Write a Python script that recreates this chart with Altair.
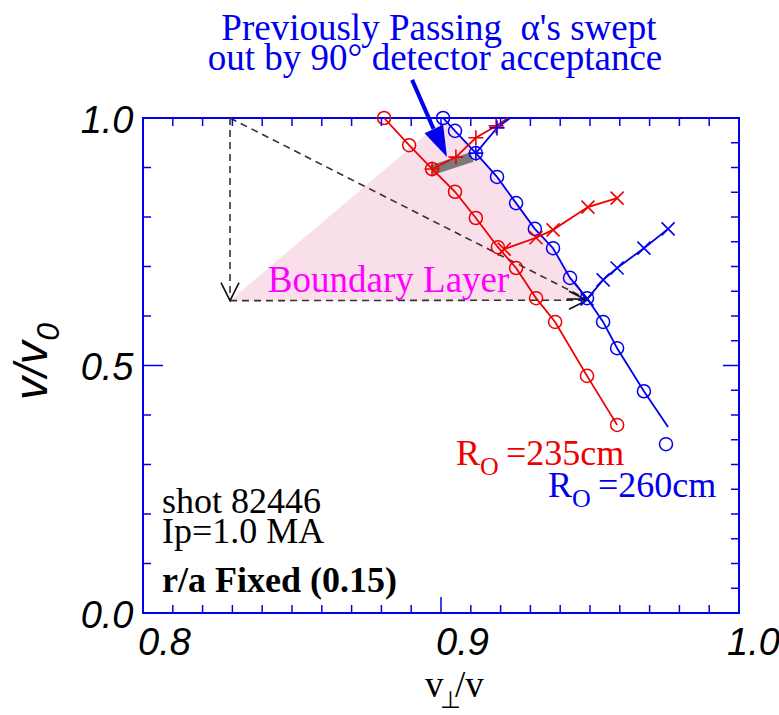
import altair as alt
import pandas as pd

# ------------------------------------------------------------------ data
# R0 = 235 cm (red) : circles along the orbit curve
red_circle_x = [0.8809, 0.8893, 0.8970, 0.9047, 0.9117, 0.9191, 0.9252, 0.9319, 0.9383, 0.9490, 0.9591]
red_circle_y = [1.000, 0.945, 0.897, 0.851, 0.798, 0.739, 0.697, 0.636, 0.588, 0.479, 0.380]

# R0 = 260 cm (blue) : line and circles
blue_line_x = [0.9007, 0.9047, 0.9117, 0.9188, 0.9252, 0.9315, 0.9376, 0.9433, 0.9490, 0.9544, 0.9591, 0.9681, 0.9762]
blue_line_y = [1.000, 0.974, 0.929, 0.881, 0.828, 0.776, 0.737, 0.677, 0.636, 0.588, 0.535, 0.448, 0.376]
blue_circle_x = [0.9007, 0.9047, 0.9117, 0.9188, 0.9252, 0.9315, 0.9376, 0.9433, 0.9490, 0.9544, 0.9591, 0.9681, 0.9755]
blue_circle_y = [1.000, 0.974, 0.929, 0.881, 0.828, 0.776, 0.737, 0.677, 0.636, 0.588, 0.535, 0.448, 0.341]

# "+" branches (upper)
red_plus_line_x = [0.8970, 0.9050, 0.9117, 0.9185, 0.9225]
red_plus_line_y = [0.897, 0.921, 0.960, 0.984, 1.000]
red_plus_x = [0.8970, 0.9050, 0.9117, 0.9185]
red_plus_y = [0.897, 0.921, 0.960, 0.984]
blue_plus_line_x = [0.9117, 0.9188, 0.9232]
blue_plus_line_y = [0.929, 0.980, 1.000]
blue_plus_x = [0.9117, 0.9188]
blue_plus_y = [0.929, 0.980]

# "x" branches (lower)
red_x_x = [0.9212, 0.9319, 0.9376, 0.9493, 0.9591]
red_x_y = [0.735, 0.758, 0.774, 0.820, 0.838]
blue_x_x = [0.9490, 0.9544, 0.9591, 0.9681, 0.9762]
blue_x_y = [0.634, 0.673, 0.697, 0.737, 0.776]

# swept region (gray strip)
gray_x = [0.8970, 0.9104]
gray_y = [0.895, 0.921]

# boundary layer (pink)
pink_x = [0.8292, 0.9005, 0.9047, 0.9117, 0.9188, 0.9252, 0.9315, 0.9376, 0.9433, 0.9490]
pink_top = [0.631, 0.995, 0.974, 0.929, 0.881, 0.828, 0.776, 0.737, 0.677, 0.634]
pink_bottom = 0.631

# dashed arrows: (x0, y0, x1, y1, head angle)
dash_seg = ["down", "diag", "across"]
dash_x0 = [0.8292, 0.8292, 0.8292]
dash_y0 = [1.000, 1.000, 0.631]
dash_x1 = [0.8292, 0.9490, 0.9490]
dash_y1 = [0.631, 0.634, 0.632]
dash_angle = [90, 27, 0]

# big blue arrow
blue_arrow_x = [0.8903, 0.8975]
blue_arrow_y = [1.077, 0.978]
blue_tip_x = [0.9020]
blue_tip_y = [0.921]

# ticks
x_minor = [0.81, 0.82, 0.83, 0.84, 0.85, 0.86, 0.87, 0.88, 0.89, 0.91, 0.92, 0.93, 0.94, 0.95, 0.96, 0.97, 0.98, 0.99]
x_major = [0.8, 0.9, 1.0]
y_left_minor = [0.1, 0.2, 0.3, 0.4, 0.6, 0.7, 0.8, 0.9]
y_right_minor = [0.05, 0.1, 0.15, 0.2, 0.25, 0.3, 0.35, 0.4, 0.45, 0.55, 0.6, 0.65, 0.7, 0.75, 0.8, 0.85, 0.9, 0.95]
y_major = [0.5]
x_labels = [0.8, 0.9, 1.0]
y_labels = [0.0, 0.5, 1.0]

# ------------------------------------------------------------------ style
W, H = 596, 495
RED = "#EE0000"
BLUE = "#0000EE"
MAG = "#FF00FF"
SERIF = "Liberation Serif"
SANS = "Liberation Sans"
PLUS = "M-1,0L1,0M0,-1L0,1"
CROSS = "M-1,-1L1,1M-1,1L1,-1"
VHEAD = "M-1,-0.5L0,0L-1,0.5"
TRI = "M0,0L-1,-0.33L-1,0.33Z"

xs = alt.Scale(domain=[0.8, 1.0], nice=False, zero=False)
ys = alt.Scale(domain=[0.0, 1.0], nice=False, zero=False)
xaxis = alt.Axis(values=x_labels, format=".1f", title=None, domain=False, ticks=False, grid=False,
                 labelFont=SANS, labelFontStyle="italic", labelFontSize=38, labelColor="black",
                 labelPadding=11,
                 labelOffset={"condition": {"test": "datum.value > 0.95", "value": 14}, "value": 21},
                 labelFlush=False, labelOverlap=False)
yaxis = alt.Axis(values=y_labels, format=".1f", title=None, domain=False, ticks=False, grid=False,
                 labelFont=SANS, labelFontStyle="italic", labelFontSize=38, labelColor="black",
                 labelPadding=10, labelOffset=3, labelFlush=False, labelOverlap=False)


def X(f="x"):
    return alt.X(f"{f}:Q", scale=xs, axis=xaxis)


def Y(f="y"):
    return alt.Y(f"{f}:Q", scale=ys, axis=yaxis)


def df(x, y, **kw):
    d = pd.DataFrame({"x": x, "y": y})
    for k, v in kw.items():
        d[k] = v
    return d


layers = []

# pink boundary layer
pink_df = pd.DataFrame({"x": pink_x, "y": pink_top, "y2": [pink_bottom] * len(pink_x)})
layers.append(alt.Chart(pink_df).mark_area(color="#F9DFEA", opacity=1)
              .encode(x=X(), y=Y(), y2="y2:Q"))

# dashed arrows
dash_rows = []
for s, a, b, c, d in zip(dash_seg, dash_x0, dash_y0, dash_x1, dash_y1):
    dash_rows.append({"seg": s, "x": a, "y": b, "o": 0})
    dash_rows.append({"seg": s, "x": c, "y": d, "o": 1})
layers.append(alt.Chart(pd.DataFrame(dash_rows)).mark_line(color="#333333", strokeWidth=1.6, strokeDash=[7, 5])
              .encode(x=X(), y=Y(), detail="seg:N", order="o:Q"))
heads = pd.DataFrame({"x": dash_x1, "y": dash_y1, "a": dash_angle})
layers.append(alt.Chart(heads).mark_point(shape=VHEAD, filled=False, size=1296, strokeWidth=1.6,
                                          color="#111111", opacity=1)
              .encode(x=X(), y=Y(), angle=alt.Angle("a:Q", scale=None)))

# gray swept strip
layers.append(alt.Chart(df(gray_x, gray_y)).mark_line(color="#7A7A7A", strokeWidth=10, strokeCap="butt")
              .encode(x=X(), y=Y()))

# curves
for (lx, ly, col) in [(red_circle_x, red_circle_y, RED), (blue_line_x, blue_line_y, BLUE),
                      (red_plus_line_x, red_plus_line_y, RED), (blue_plus_line_x, blue_plus_line_y, BLUE),
                      (red_x_x, red_x_y, RED), (blue_x_x, blue_x_y, BLUE)]:
    layers.append(alt.Chart(df(lx, ly, o=list(range(len(lx))))).mark_line(color=col, strokeWidth=1.8)
                  .encode(x=X(), y=Y(), order="o:Q"))

# markers
for (mx, my, col) in [(red_circle_x, red_circle_y, RED), (blue_circle_x, blue_circle_y, BLUE)]:
    layers.append(alt.Chart(df(mx, my)).mark_point(shape="circle", filled=False, size=170, strokeWidth=1.5,
                                                   color=col, opacity=1)
                  .encode(x=X(), y=Y()))
for (mx, my, col) in [(red_plus_x, red_plus_y, RED), (blue_plus_x, blue_plus_y, BLUE)]:
    layers.append(alt.Chart(df(mx, my)).mark_point(shape=PLUS, filled=False, size=225, strokeWidth=1.6,
                                                   color=col, opacity=1)
                  .encode(x=X(), y=Y()))
for (mx, my, col) in [(red_x_x, red_x_y, RED), (blue_x_x, blue_x_y, BLUE)]:
    layers.append(alt.Chart(df(mx, my)).mark_point(shape=CROSS, filled=False, size=169, strokeWidth=1.6,
                                                   color=col, opacity=1)
                  .encode(x=X(), y=Y()))

# big blue arrow
layers.append(alt.Chart(df(blue_arrow_x, blue_arrow_y)).mark_line(color=BLUE, strokeWidth=4)
              .encode(x=X(), y=Y()))
layers.append(alt.Chart(df(blue_tip_x, blue_tip_y, a=[65])).mark_point(shape=TRI, filled=True, size=3844,
                                                                       color=BLUE, opacity=1, strokeWidth=0)
              .encode(x=X(), y=Y(), angle=alt.Angle("a:Q", scale=None)))


# text annotations
def txt(x, y, labels, color, size=36, font=SERIF, align="left", weight="normal", style="normal", angle=0):
    d = pd.DataFrame({"x": x, "y": y, "label": labels})
    kw = dict(align=align, baseline="alphabetic", font=font, fontSize=size, color=color,
              fontWeight=weight, fontStyle=style)
    if angle:
        kw["angle"] = angle
    return alt.Chart(d).mark_text(**kw).encode(x=X(), y=Y(), text="label:N")


title_lines = ["Previously Passing \u00a0\u03b1's swept", "out by 90\u00b0 detector acceptance"]
layers.append(txt([0.8993, 0.8980], [1.1576, 1.097], title_lines, BLUE, size=37, align="center"))
layers.append(txt([0.8419], [0.6485], ["Boundary Layer"], MAG, size=37))
layers.append(txt([0.9050, 0.9218], [0.299, 0.299], ["R", "=235cm"], RED))
layers.append(txt([0.9131], [0.279], ["O"], RED, size=26))
layers.append(txt([0.9359, 0.9527], [0.2343, 0.2343], ["R", "=260cm"], BLUE))
layers.append(txt([0.9440], [0.2141], ["O"], BLUE, size=26))
layers.append(txt([0.8064, 0.8064], [0.2020, 0.1414], ["shot 82446", "Ip=1.0 MA"], "black"))
layers.append(txt([0.8064], [0.0424], ["r/a Fixed (0.15)"], "black", weight="bold"))

# axis titles
layers.append(txt([0.8946, 0.9047], [-0.1697, -0.1697], ["v", "/v"], "black", size=37))
layers.append(txt([0.8997], [-0.192], ["\u22a5"], "black", size=24, font="DejaVu Sans"))
layers.append(txt([0.7678], [0.4303], ["v/v"], "black", size=46, font=SANS, style="italic", angle=270))
layers.append(txt([0.7718], [0.5500], ["0"], "black", size=32, font=SANS, style="italic", angle=270))

# ticks (inward, all four sides)
tick = lambda v: pd.DataFrame({"t": v})
layers.append(alt.Chart(tick(x_minor)).mark_rule(color=BLUE, strokeWidth=1.5)
              .encode(x=X("t"), y=alt.value(H), y2=alt.value(H - 8)))
layers.append(alt.Chart(tick(x_major)).mark_rule(color=BLUE, strokeWidth=1.5)
              .encode(x=X("t"), y=alt.value(H), y2=alt.value(H - 16)))
layers.append(alt.Chart(tick(x_minor + x_major)).mark_rule(color=BLUE, strokeWidth=1.5)
              .encode(x=X("t"), y=alt.value(0), y2=alt.value(8)))
layers.append(alt.Chart(tick(y_left_minor)).mark_rule(color=BLUE, strokeWidth=1.5)
              .encode(y=Y("t"), x=alt.value(0), x2=alt.value(8)))
layers.append(alt.Chart(tick(y_major)).mark_rule(color=BLUE, strokeWidth=1.5)
              .encode(y=Y("t"), x=alt.value(0), x2=alt.value(20)))
layers.append(alt.Chart(tick(y_right_minor)).mark_rule(color=BLUE, strokeWidth=1.5)
              .encode(y=Y("t"), x=alt.value(W), x2=alt.value(W - 8)))
layers.append(alt.Chart(tick(y_major)).mark_rule(color=BLUE, strokeWidth=1.5)
              .encode(y=Y("t"), x=alt.value(W), x2=alt.value(W - 16)))

chart = (alt.layer(*layers)
         .properties(width=W, height=H,
                     padding={"left": 143, "top": 118, "right": 40, "bottom": 102},
                     autosize=alt.AutoSizeParams(type="none"),
                     background="white")
         .configure_view(stroke=BLUE, strokeWidth=2))

chart.save("out.html", embed_options={"renderer": "svg", "actions": False})
